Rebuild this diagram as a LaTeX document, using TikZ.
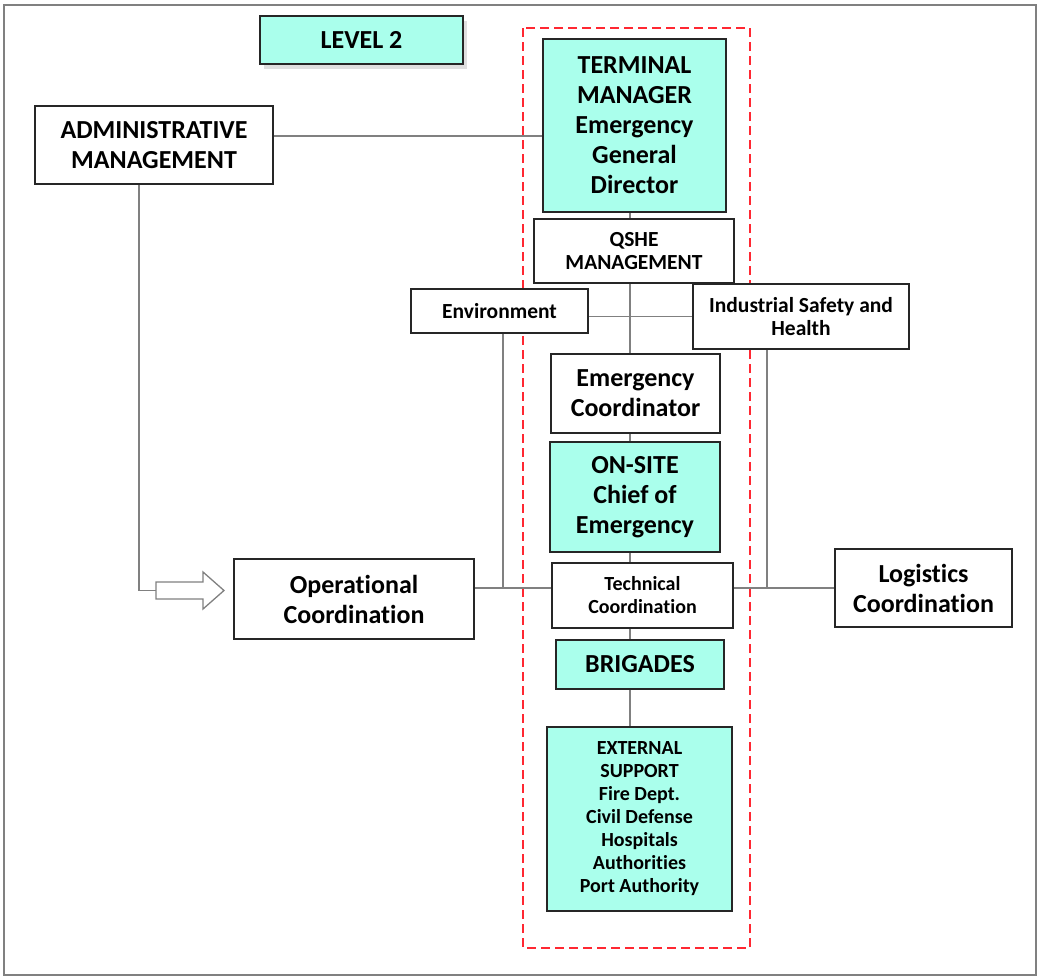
\documentclass[tikz,border=0pt]{standalone}
\usepackage{fontspec}
\setmainfont{Carlito}[Ligatures={NoCommon}]
\usetikzlibrary{shadows}
\definecolor{cyanfill}{RGB}{170,255,236}
\definecolor{linegray}{RGB}{128,128,128}
\definecolor{dashred}{RGB}{255,40,50}
\begin{document}
\begin{tikzpicture}[x=1pt,y=-1pt,
  box/.style={draw=black!85, line width=1.6pt, align=center, inner sep=0pt, fill=white},
  cbox/.style={box, fill=cyanfill},
  big/.style={font=\fontsize{26}{30}\selectfont\bfseries},
  mid/.style={font=\fontsize{21.5}{23}\selectfont\bfseries},
  small/.style={font=\fontsize{20}{23}\selectfont\bfseries},
  conn/.style={draw=linegray, line width=1.5pt},
]
\useasboundingbox (0,0) rectangle (1039,978);
% frame
\draw[linegray, line width=2pt] (4,5) rectangle (1036,975);
% red dashed region
\draw[dashred, line width=2.7pt, dash pattern=on 9pt off 5pt] (523,28) rectangle (750,948);

% nodes
\node[cbox, big, minimum width=203, minimum height=48,
  drop shadow={opacity=0.25, shadow xshift=4pt, shadow yshift=-5pt}] (level) at (361.5,40) {LEVEL 2};
\node[box, big, minimum width=238, minimum height=78] (admin) at (154,145) {ADMINISTRATIVE\\MANAGEMENT};
\node[cbox, big, minimum width=183, minimum height=173] (tm) at (634.5,125.5) {TERMINAL\\MANAGER\\Emergency\\General\\Director};
\node[box, mid, minimum width=200, minimum height=64] (qshe) at (634,251) {QSHE\\MANAGEMENT};
\node[box, mid, minimum width=177, minimum height=44] (env) at (499.5,311) {Environment};
\node[box, mid, minimum width=216, minimum height=65] (ish) at (801,316.5) {Industrial Safety and\\Health};
\node[box, big, minimum width=169, minimum height=79] (ec) at (635.5,393.5) {Emergency\\Coordinator};
\node[cbox, big, minimum width=170, minimum height=110] (onsite) at (635,497) {ON-SITE\\Chief of\\Emergency};
\node[box, small, minimum width=181, minimum height=65] (tech) at (642.5,595.5) {Technical\\Coordination};
\node[cbox, big, minimum width=168, minimum height=49] (brig) at (640,664.5) {BRIGADES};
\node[cbox, small, minimum width=185, minimum height=184] (ext) at (639.5,819) {EXTERNAL\\SUPPORT\\Fire Dept.\\Civil Defense\\Hospitals\\Authorities\\Port Authority};
\node[box, big, minimum width=240, minimum height=80] (op) at (354,599) {Operational\\Coordination};
\node[box, big, minimum width=177, minimum height=78] (log) at (923.5,588) {Logistics\\Coordination};

% spine
\coordinate (sp) at (630,0);
\draw[conn] (sp |- tm.south) -- (sp |- qshe.north);
\draw[conn] (sp |- qshe.south) -- (sp |- ec.north);
\draw[conn] (sp |- ec.south) -- (sp |- onsite.north);
\draw[conn] (sp |- onsite.south) -- (sp |- tech.north);
\draw[conn] (sp |- tech.south) -- (sp |- brig.north);
\draw[conn] (sp |- brig.south) -- (sp |- ext.north);

% admin to terminal manager
\draw[conn] ([yshift=9pt]admin.east) coordinate (a1) -- (a1 -| tm.west);
% environment to industrial safety
\draw[conn] (env.east |- ish.west) -- (ish.west);
% horizontal coordination line
\draw[conn] (op.east |- log.west) -- (tech.west |- log.west);
\draw[conn] (tech.east |- log.west) -- (log.west);
% verticals from environment and industrial safety
\draw[conn] ([xshift=3.5pt]env.south) coordinate (e1) -- (e1 |- log.west);
\draw[conn] ([xshift=-34pt]ish.south) coordinate (i1) -- (i1 |- log.west);
% admin down to hollow arrow
\coordinate (arrtail) at (156,590.5);
\draw[conn] ([xshift=-15pt]admin.south) |- (arrtail);
\draw[draw=linegray, line width=1.3pt, fill=white] (156,582) -- (203,582) -- (203,572) -- (224,590.5) -- (203,609) -- (203,599) -- (156,599) -- cycle;
\end{tikzpicture}
\end{document}
